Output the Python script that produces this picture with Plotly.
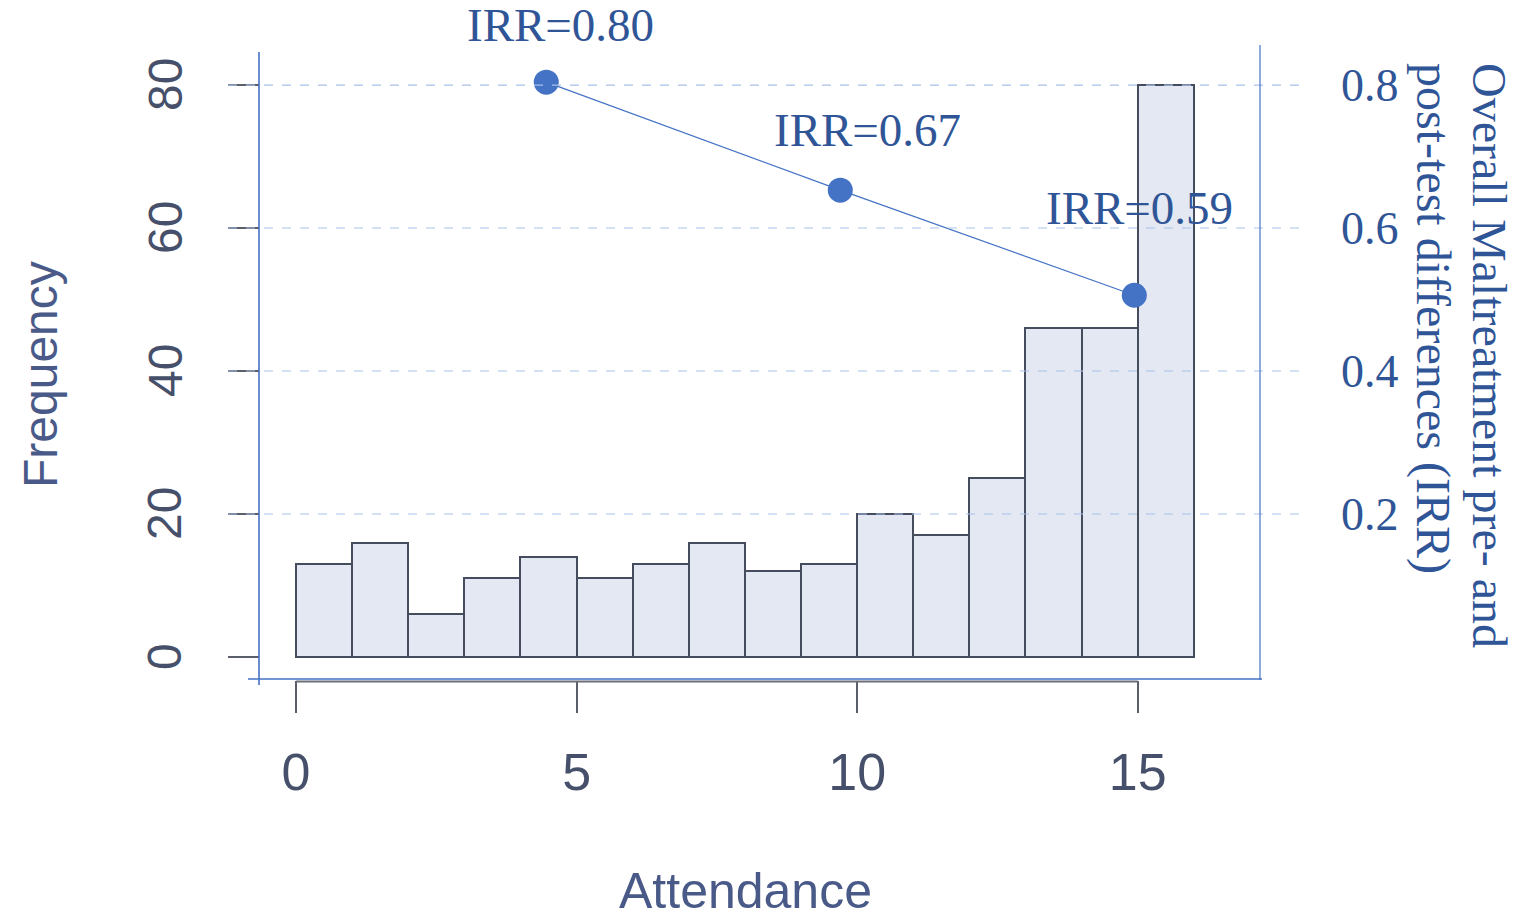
import plotly.graph_objects as go

# Histogram data (Attendance bins of width 1, from 0 to 16)
bin_starts = list(range(16))
frequency = [13, 16, 6, 11, 14, 11, 13, 16, 12, 13, 20, 17, 25, 46, 46, 80]

# IRR overlay points (as drawn in the picture)
irr_x = [4.46, 9.70, 14.94]
irr_y = [0.804, 0.653, 0.506]
irr_labels = ["IRR=0.80", "IRR=0.67", "IRR=0.59"]
irr_label_x = [4.71, 10.18, 15.04]
irr_label_ypx = [25, 130, 208]

x_ticks = [0, 5, 10, 15]
y_ticks = [0, 20, 40, 60, 80]
y_ticktext = ["0", "20", "40", "60", "80"]
y2_ticks = [0.2, 0.4, 0.6, 0.8]
y2_ticktext = ["0.2", "0.4", "0.6", "0.8"]

W, H = 1517, 920
L, R, T, B = 260, 257, 45, 240
PH = H - T - B
PW = W - L - R

def py(p):  # pixel y -> paper y
    return (H - B - p) / PH

def px(p):  # pixel x -> paper x
    return (p - L) / PW

xr = [-0.642, 17.18]
yr = [-3.22, 85.6]
y2r = [yr[0] / 100, yr[1] / 100]

SANS = "Liberation Sans, Arial, sans-serif"
SERIF = "Liberation Serif, Times New Roman, serif"
GREY_TXT = "#46506a"
BLUE_TXT = "#2f5597"
BLUE = "#4472c4"

fig = go.Figure()
fig.add_trace(go.Bar(
    x=[b + 0.5 for b in bin_starts], y=frequency, width=1,
    marker=dict(color="#e3e8f2", line=dict(color="#454c5e", width=2)),
    showlegend=False, hoverinfo="skip",
))
fig.add_trace(go.Scatter(
    x=irr_x, y=irr_y, yaxis="y2", mode="lines+markers",
    line=dict(color=BLUE, width=1.2),
    marker=dict(color=BLUE, size=25),
    showlegend=False,
))

shapes = []
# dashed gridlines (right-axis grid), drawn over the bars
for v in y2_ticks:
    shapes.append(dict(type="line", xref="paper", yref="y2", x0=px(228), x1=px(1300),
                       y0=v, y1=v, line=dict(color="#a9c1ea", width=1.2, dash="dash"), layer="above"))
# grey R axis line under the bottom frame
shapes.append(dict(type="line", xref="x", yref="paper", x0=0, x1=15, y0=py(681.5), y1=py(681.5),
                   line=dict(color="#6a6f7a", width=2)))
# blue frame
shapes.append(dict(type="line", xref="paper", yref="paper", x0=px(259), x1=px(259),
                   y0=py(685), y1=py(52), line=dict(color=BLUE, width=1.6)))
shapes.append(dict(type="line", xref="paper", yref="paper", x0=px(248), x1=px(1262),
                   y0=py(679), y1=py(679), line=dict(color=BLUE, width=1.6)))
shapes.append(dict(type="line", xref="paper", yref="paper", x0=px(1260), x1=px(1260),
                   y0=py(680), y1=py(45), line=dict(color=BLUE, width=1.2)))

annotations = []
# left tick labels (rotated, R style)
for v, t in zip(y_ticks, y_ticktext):
    annotations.append(dict(x=px(165), xref="paper", y=v, yref="y", text=t, textangle=-90,
                            showarrow=False, xanchor="center", yanchor="middle",
                            font=dict(family=SANS, size=48, color=GREY_TXT)))
for lx, lypx, txt in zip(irr_label_x, irr_label_ypx, irr_labels):
    annotations.append(dict(x=lx, xref="x", y=py(lypx), yref="paper", text=txt, showarrow=False,
                            xanchor="center", yanchor="middle",
                            font=dict(family=SERIF, size=47, color=BLUE_TXT)))
annotations.append(dict(x=px(40), y=py(375), xref="paper", yref="paper", text="Frequency",
                        textangle=-90, showarrow=False, xanchor="center", yanchor="middle",
                        font=dict(family=SANS, size=48, color="#4a5a88")))
annotations.append(dict(x=px(745), y=py(891), xref="paper", yref="paper", text="Attendance",
                        showarrow=False, xanchor="center", yanchor="middle",
                        font=dict(family=SANS, size=50, color="#4a5a88")))
annotations.append(dict(x=px(1490), y=py(355), xref="paper", yref="paper",
                        text="Overall Maltreatment pre- and",
                        textangle=90, showarrow=False, xanchor="center", yanchor="middle",
                        font=dict(family=SERIF, size=48, color=BLUE_TXT)))
annotations.append(dict(x=px(1433), y=py(318), xref="paper", yref="paper",
                        text="post-test differences (IRR)",
                        textangle=90, showarrow=False, xanchor="center", yanchor="middle",
                        font=dict(family=SERIF, size=48, color=BLUE_TXT)))

fig.update_layout(
    width=W, height=H,
    margin=dict(l=L, r=R, t=T, b=B, pad=0),
    paper_bgcolor="white", plot_bgcolor="white",
    bargap=0,
    shapes=shapes,
    annotations=annotations,
    xaxis=dict(range=xr, tickvals=x_ticks, ticks="outside", ticklen=32, tickwidth=2,
               tickcolor="#5a5f6a", showgrid=False, zeroline=False, showline=False,
               tickfont=dict(family=SANS, size=52, color=GREY_TXT), ticklabelstandoff=15),
    yaxis=dict(range=yr, tickvals=y_ticks, ticks="outside", ticklen=31, tickwidth=2,
               tickcolor="#5a5f6a", showgrid=False, zeroline=False, showline=False,
               showticklabels=False),
    yaxis2=dict(range=y2r, overlaying="y", side="right", tickvals=y2_ticks, ticktext=y2_ticktext,
                ticks="", showgrid=False, zeroline=False, showline=False,
                tickfont=dict(family=SERIF, size=46, color=BLUE_TXT), ticklabelstandoff=80),
)

fig.write_html("out.html", config={"displayModeBar": False},
               post_script="document.body.style.margin='0';document.body.style.overflow='hidden';")
